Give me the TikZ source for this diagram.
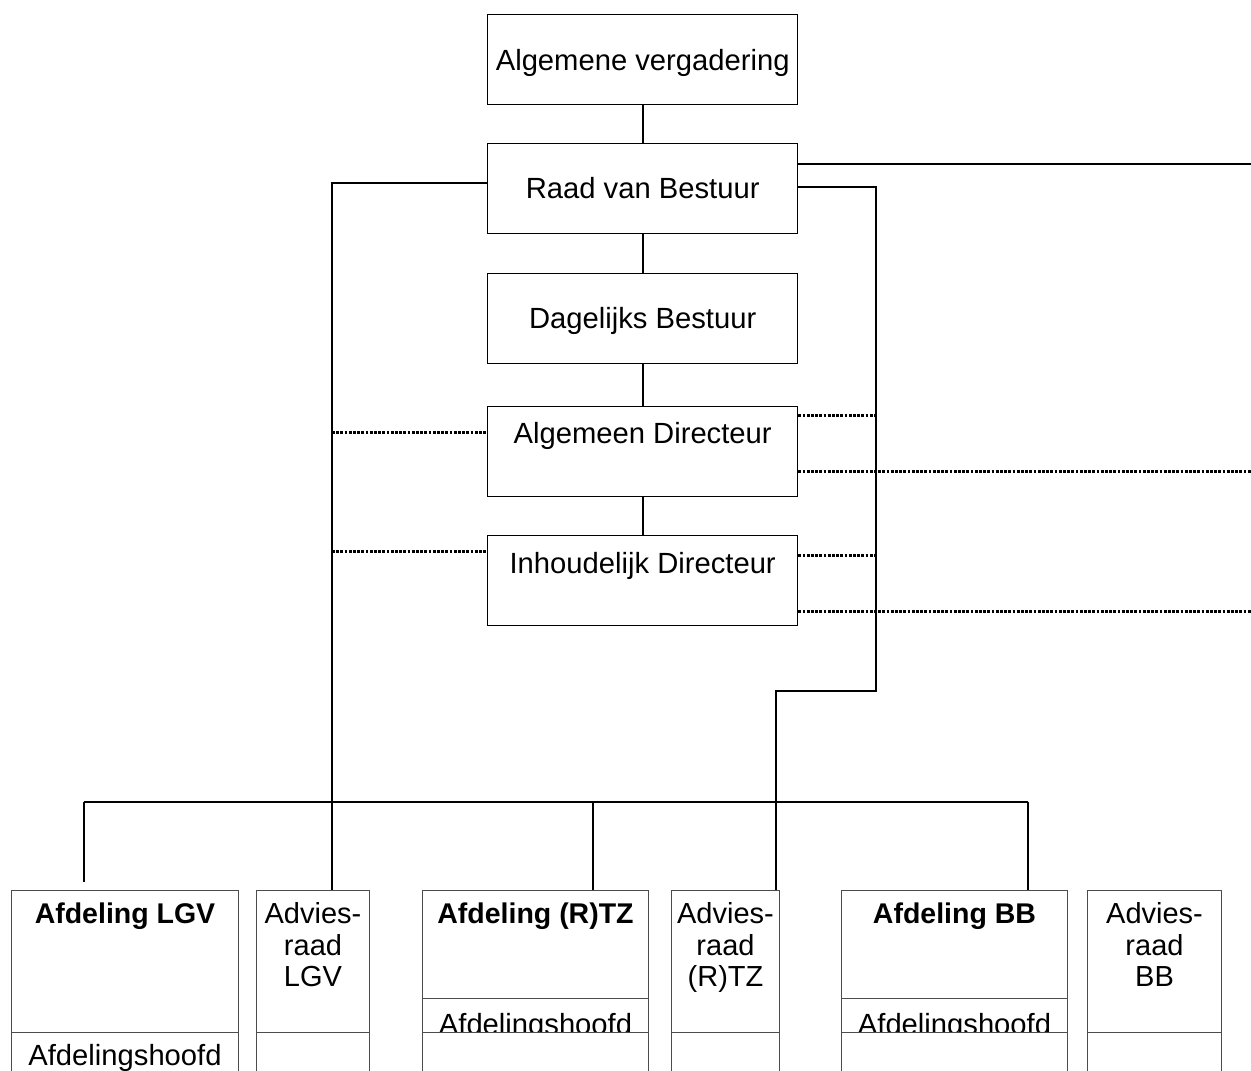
\documentclass[tikz,border=0pt]{standalone}
\usepackage{fontspec}
\setmainfont{Liberation Sans}
\usetikzlibrary{calc}
\begin{document}
\begin{tikzpicture}[x=1pt,y=-1pt,
  orgbox/.style={draw=black,line width=1.4pt,minimum width=310pt,minimum height=90pt,inner sep=0pt,anchor=north west},
  unitbox/.style={draw=black!70,line width=1pt,inner sep=0pt,anchor=north west,minimum height=230pt},
  lbl/.style={anchor=base,inner sep=0pt,font=\fontsize{29.2}{31.5}\selectfont},
  blbl/.style={lbl,font=\fontsize{28.5}{31.5}\selectfont\bfseries},
  mlbl/.style={anchor=north,inner sep=0pt,align=center,font=\fontsize{29}{31.5}\selectfont},
  link/.style={line width=1.6pt},
  divider/.style={draw=black!70,line width=1pt},
  dotlink/.style={line width=3pt,dash pattern=on 2.8pt off 1.4pt}]
\useasboundingbox (0,0) rectangle (1251,1071);
\clip (0,0) rectangle (1251,1071);

% board column
\node[orgbox] (av)  at (487,14)  {};
\node[orgbox] (rvb) at (487,143) {};
\node[orgbox] (db)  at (487,273) {};
\node[orgbox] (ad)  at (487,406) {};
\node[orgbox] (id)  at (487,535) {};
\node[lbl] (tav)  at ($(av.north)+(0,56.5)$)  {Algemene vergadering};
\node[lbl] (trvb) at ($(rvb.north)+(0,55.5)$) {Raad van Bestuur};
\node[lbl] (tdb)  at ($(db.north)+(0,55.5)$)  {Dagelijks Bestuur};
\node[lbl] (tad)  at ($(ad.north)+(0,37)$)    {Algemeen Directeur};
\node[lbl] (tid)  at ($(id.north)+(0,38)$)    {Inhoudelijk Directeur};

% departments and advisory councils
\node[unitbox,minimum width=227pt] (lgv)  at (11,890)   {};
\node[unitbox,minimum width=113pt] (alga) at (256,890)  {};
\node[unitbox,minimum width=226pt] (rtz)  at (422,890)  {};
\node[unitbox,minimum width=108pt] (arta) at (671,890)  {};
\node[unitbox,minimum width=226pt] (bb)   at (841,890)  {};
\node[unitbox,minimum width=134pt] (abba) at (1087,890) {};

\foreach \b in {lgv,alga,rtz,arta,bb,abba}
  \draw[divider] ($(\b.north west)+(0,142)$) -- ($(\b.north east)+(0,142)$);
\foreach \b in {rtz,bb}
  \draw[divider] ($(\b.north west)+(0,108)$) -- ($(\b.north east)+(0,108)$);

\node[blbl] (tlgv) at ($(lgv.north)+(0,33.5)$) {Afdeling LGV};
\node[blbl] (trtz) at ($(rtz.north)+(0,33.5)$) {Afdeling (R)TZ};
\node[blbl] (tbb)  at ($(bb.north)+(0,33.5)$)  {Afdeling BB};
\node[mlbl] (talg) at ($(alga.north)+(0,12.5)$) {Advies-\\raad\\LGV};
\node[mlbl] (tart) at ($(arta.north)+(0,12.5)$) {Advies-\\raad\\(R)TZ};
\node[mlbl] (tabb) at ($(abba.north)+(0,12.5)$) {Advies-\\raad\\BB};
\node[lbl] (hlgv) at ($(lgv.north)+(0,175)$) {Afdelingshoofd};
\begin{scope}
  \clip ($(rtz.north west)+(0,108)$) rectangle ($(bb.north east)+(0,141)$);
  \node[lbl] (hrtz) at ($(rtz.north)+(0,144)$) {Afdelingshoofd};
  \node[lbl] (hbb)  at ($(bb.north)+(0,144)$)  {Afdelingshoofd};
\end{scope}

% hierarchy lines
\draw[link] (av.south) -- (rvb.north);
\draw[link] (rvb.south) -- (db.north);
\draw[link] (db.south) -- (ad.north);
\draw[link] (ad.south) -- (id.north);
\draw[link] ($(rvb.north east)+(0,21)$) -- ++(470,0);

\coordinate (busl) at (84,802);
\coordinate (busr) at (1028,802);
\draw[link] (busl) -- (busr);
\draw[link] (busl) -- (84,882);
\draw[link] (rtz.north -| 593,0) -- (593,802);
\draw[link] (busr) -- (bb.north -| busr);

\coordinate (lcol) at (332,183);
\draw[link] ($(rvb.north west)+(0,40)$) -- (lcol) -- (alga.north -| lcol);
\coordinate (rcol) at (876,187);
\coordinate (rstep) at (876,691);
\draw[link] ($(rvb.north east)+(0,44)$) -- (rcol) -- (rstep) -- (776,691) -- (arta.north -| 776,0);

% dotted advisory lines
\draw[dotlink] (332,432) -- ($(ad.north west)+(0,26)$);
\draw[dotlink] (332,551) -- ($(id.north west)+(0,16)$);
\draw[dotlink] ($(ad.north east)+(0,9)$) -- (876,415);
\draw[dotlink] ($(ad.north east)+(0,65)$) -- (1255,471);
\draw[dotlink] ($(id.north east)+(0,20)$) -- (876,555);
\draw[dotlink] ($(id.north east)+(0,76)$) -- (1255,611);
\end{tikzpicture}
\end{document}
